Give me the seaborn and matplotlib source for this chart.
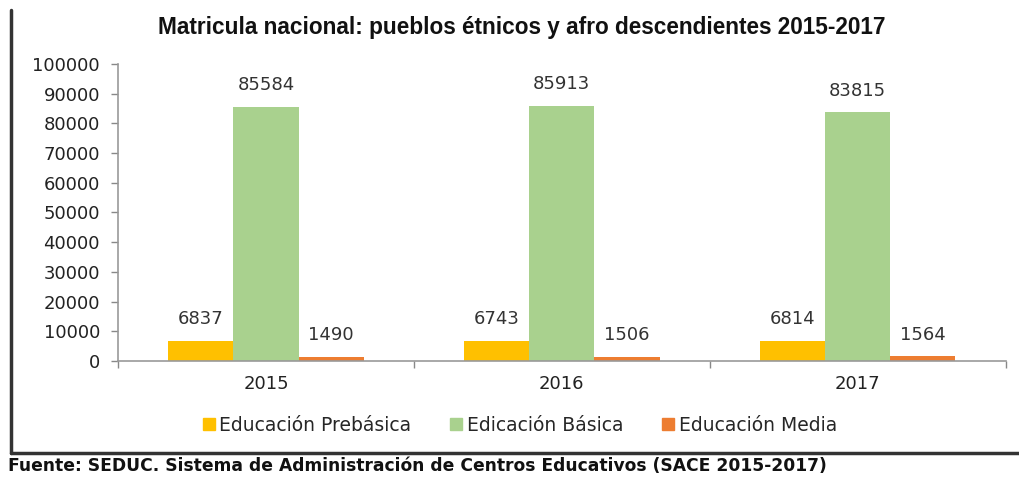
import pandas as pd
import matplotlib
matplotlib.use("Agg")
import matplotlib.pyplot as plt
import seaborn as sns
from matplotlib.lines import Line2D

years = ["2015", "2016", "2017"]
levels = ["Educación Prebásica", "Edicación Básica", "Educación Media"]
prebasica = [6837, 6743, 6814]
basica = [85584, 85913, 83815]
media = [1490, 1506, 1564]
colors = ["#FFC000", "#A9D18E", "#ED7D31"]

title = "Matricula nacional: pueblos étnicos y afro descendientes 2015-2017"
source = "Fuente: SEDUC. Sistema de Administración de Centros Educativos (SACE 2015-2017)"

df = pd.DataFrame({
    "year": years * 3,
    "level": [levels[0]] * 3 + [levels[1]] * 3 + [levels[2]] * 3,
    "value": prebasica + basica + media,
})

sns.set_theme(style="white")
plt.rcParams["font.family"] = ["DejaVu Sans"]

fig = plt.figure(figsize=(10.2, 4.78), dpi=100)
ax = fig.add_axes([0.1157, 0.2448, 0.8703, 0.6213])

sns.barplot(data=df, x="year", y="value", hue="level", hue_order=levels,
            palette=colors, width=0.66, saturation=1, linewidth=0,
            ax=ax, legend=False)

for cont in ax.containers:
    for bar in cont:
        h = bar.get_height()
        ax.annotate(f"{int(h)}", (bar.get_x() + bar.get_width() / 2, h),
                    xytext=(0, 9), textcoords="offset points",
                    ha="center", va="bottom", fontsize=13, color="#333333")

ax.set_ylim(0, 100000)
ax.set_xlim(-0.5, 2.5)
ax.set_yticks(range(0, 100001, 10000))
ax.set_xlabel("")
ax.set_ylabel("")
ax.tick_params(axis="y", labelsize=13, colors="#888888", labelcolor="#222222",
               length=5, width=1, direction="out", left=True, pad=8)
ax.tick_params(axis="x", labelsize=13, labelcolor="#222222", length=0, pad=10)
ax.set_xticks([-0.5, 0.5, 1.5, 2.5], minor=True)
ax.tick_params(axis="x", which="minor", length=5, width=1, color="#888888", bottom=True)
for s in ["top", "right"]:
    ax.spines[s].set_visible(False)
for s in ["left", "bottom"]:
    ax.spines[s].set_color("#999999")
    ax.spines[s].set_linewidth(1.2)

fig.text(0.512, 0.943, title, ha="center", va="center", fontsize=16.3,
         fontweight="bold", family="Liberation Sans", color="#111111")

handles = [Line2D([], [], marker="s", linestyle="", markersize=9,
                  markerfacecolor=c, markeredgecolor=c) for c in colors]
fig.legend(handles, levels, loc="center", bbox_to_anchor=(0.508, 0.11), ncol=3,
           frameon=False, fontsize=13.5, handletextpad=0.05, columnspacing=1.9,
           handlelength=1.0)

# outer frame (left and bottom edges)
fig.add_artist(Line2D([0.011, 0.011], [0.053, 0.98], color="#333333", lw=2.5,
                      transform=fig.transFigure))
fig.add_artist(Line2D([0.011, 1.0], [0.053, 0.053], color="#333333", lw=2.5,
                      transform=fig.transFigure))

fig.text(0.008, 0.025, source, ha="left", va="center", fontsize=12.3,
         fontweight="bold", color="#111111")

fig.savefig("out.png", dpi=100)
